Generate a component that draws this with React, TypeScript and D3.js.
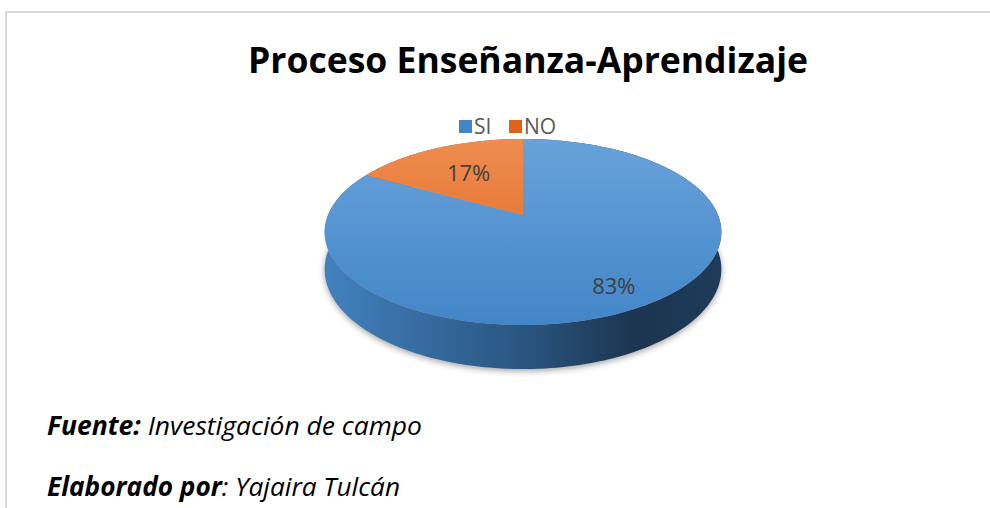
import { useEffect, useRef } from 'react';
import * as d3 from 'd3';

const categories = ['SI', 'NO'];
const values = [83, 17];
const topColors = [
  ['#6ba4dc', '#4386c8'],
  ['#f08f55', '#de6418'],
];
const sideColors = [
  ['#4281bf', '#2a5580', '#1c3550'],
  ['#c9611f', '#9a4815', '#7a3910'],
];

const width = 990,
  height = 508;

// perspective pie geometry
const cx = 523,
  cy = 215,
  R = 195,
  ay = 89.9,
  persp = 0.183,
  depth = 36;

function proj(phi: number, r = 1): [number, number] {
  const t = -Math.cos(phi) * r;
  const s = 1 / (1 - persp * t);
  return [cx + R * r * Math.sin(phi) * s, cy + ay * t * s];
}
function projBottom(phi: number): [number, number] {
  const [x, y] = proj(phi);
  const t = -Math.cos(phi);
  const s = 1 / (1 - persp * t);
  return [x, y + depth * s];
}
function samples(a0: number, a1: number) {
  const n = Math.max(2, Math.ceil(((a1 - a0) / (2 * Math.PI)) * 240));
  return d3.range(n + 1).map((i) => a0 + ((a1 - a0) * i) / n);
}

export default function App() {
  const svgRef = useRef<SVGSVGElement>(null);

  useEffect(() => {
    const svg = d3.select(svgRef.current);
    svg.selectAll('*').remove();

    const defs = svg.append('defs');
    const pie = d3.pie<number>().sort(null).value((d) => d);
    const arcs = pie(values);
    const line = d3.line();
    const fmt = d3.format('.0%');
    const total = d3.sum(values);

    arcs.forEach((a, i) => {
      const g = defs
        .append('linearGradient')
        .attr('id', `top${i}`)
        .attr('gradientUnits', 'userSpaceOnUse')
        .attr('x1', 0)
        .attr('x2', 0)
        .attr('y1', cy - ay)
        .attr('y2', cy + ay * 1.2);
      g.append('stop').attr('offset', 0).attr('stop-color', topColors[i][0]);
      g.append('stop').attr('offset', 1).attr('stop-color', topColors[i][1]);

      const sg = defs
        .append('linearGradient')
        .attr('id', `side${i}`)
        .attr('gradientUnits', 'userSpaceOnUse')
        .attr('x1', cx - R * 1.02)
        .attr('x2', cx + R * 1.02)
        .attr('y1', 0)
        .attr('y2', 0);
      sg.append('stop').attr('offset', 0).attr('stop-color', sideColors[i][0]);
      sg.append('stop').attr('offset', 0.5).attr('stop-color', sideColors[i][1]);
      sg.append('stop').attr('offset', 0.78).attr('stop-color', sideColors[i][2]);
      sg.append('stop').attr('offset', 1).attr('stop-color', '#1f3b59');
    });

    defs
      .append('filter')
      .attr('id', 'blur')
      .attr('x', '-20%')
      .attr('y', '-20%')
      .attr('width', '140%')
      .attr('height', '140%')
      .append('feGaussianBlur')
      .attr('stdDeviation', 3);

    // frame
    svg
      .append('path')
      .attr('d', `M6,${height} L6,12 L${width},12`)
      .attr('fill', 'none')
      .attr('stroke', '#d9d9d9')
      .attr('stroke-width', 2);

    // title
    svg
      .append('text')
      .text('Proceso Enseñanza-Aprendizaje')
      .attr('x', 528)
      .attr('y', 73)
      .attr('text-anchor', 'middle')
      .attr('textLength', 560)
      .attr('lengthAdjust', 'spacingAndGlyphs')
      .style('font-family', '"Open Sans", sans-serif')
      .style('font-weight', 700)
      .style('font-size', '35px')
      .attr('fill', '#000');

    // legend
    const legendX = [459, 509];
    const leg = svg
      .selectAll('g.leg')
      .data(categories)
      .join('g')
      .attr('class', 'leg')
      .attr('transform', (d, i) => `translate(${legendX[i]},120)`);
    leg
      .append('rect')
      .attr('width', 13)
      .attr('height', 13)
      .attr('fill', (d, i) => topColors[i][1]);
    leg
      .append('text')
      .text((d) => d)
      .attr('x', 15)
      .attr('y', 14)
      .style('font-family', '"Open Sans", sans-serif')
      .style('font-size', '21px')
      .attr('fill', '#595959');

    // shadow
    const full = samples(0, 2 * Math.PI);
    svg
      .append('path')
      .attr('d', line(full.map((p) => {
        const [x, y] = projBottom(p);
        return [x, y + 2] as [number, number];
      })) + 'Z')
      .attr('fill', '#7a7a7a')
      .attr('opacity', 0.7)
      .attr('filter', 'url(#blur)');

    // sides
    arcs.forEach((a, i) => {
      const ps = samples(a.startAngle, a.endAngle);
      const pts = ps.map((p) => proj(p)).concat(ps.slice().reverse().map((p) => projBottom(p)));
      svg
        .append('path')
        .attr('d', line(pts) + 'Z')
        .attr('fill', `url(#side${i})`);
    });

    // top faces
    arcs.forEach((a, i) => {
      const ps = samples(a.startAngle, a.endAngle);
      const pts = [[cx, cy] as [number, number]].concat(ps.map((p) => proj(p)));
      svg
        .append('path')
        .attr('d', line(pts) + 'Z')
        .attr('fill', `url(#top${i})`);
    });

    // labels
    arcs.forEach((a, i) => {
      const mid = (a.startAngle + a.endAngle) / 2;
      const [x, y] = proj(mid, i === 0 ? 0.8 : 0.6);
      svg
        .append('text')
        .text(fmt(a.value / total))
        .attr('x', x)
        .attr('y', y + 8)
        .attr('text-anchor', 'middle')
        .style('font-family', '"Open Sans", sans-serif')
        .style('font-size', '22px')
        .attr('fill', '#404040');
    });

    // footer
    const foot = [
      ['Fuente:', ' Investigación de campo', 435, 375],
      ['Elaborado por', ': Yajaira Tulcán', 496, 353],
    ] as const;
    foot.forEach(([b, rest, y, len]) => {
      const t = svg
        .append('text')
        .attr('x', 47)
        .attr('y', y)
        .attr('textLength', len)
        .attr('lengthAdjust', 'spacingAndGlyphs')
        .style('font-family', '"Open Sans", sans-serif')
        .style('font-style', 'italic')
        .style('font-size', '26px')
        .attr('fill', '#000');
      t.append('tspan').text(b).style('font-weight', 700);
      t.append('tspan').text(rest);
    });
  }, []);

  return (
    <svg
      ref={svgRef}
      width={width}
      height={height}
      viewBox={`0 0 ${width} ${height}`}
      style={{ position: 'absolute', left: 0, top: 0, background: '#fff' }}
    ></svg>
  );
}
